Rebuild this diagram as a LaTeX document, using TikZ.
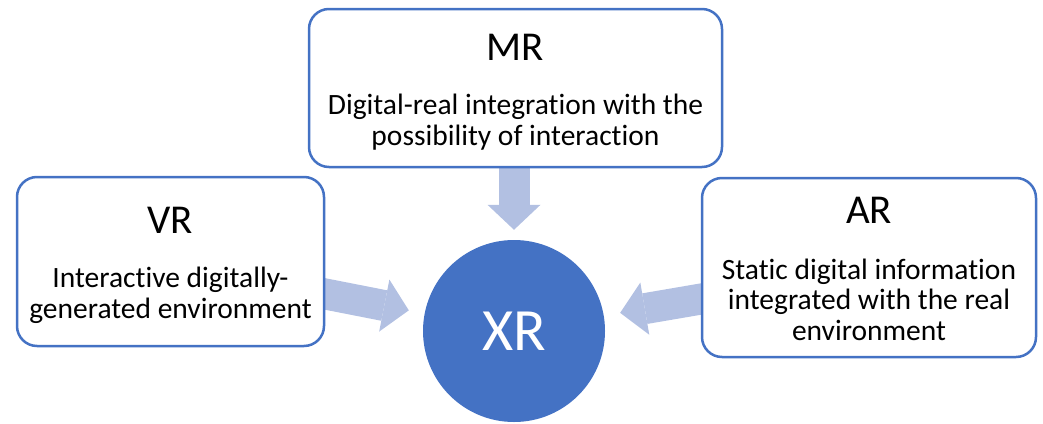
\documentclass[tikz,border=0pt]{standalone}
\usepackage{fontspec}
\setmainfont{Carlito}[Ligatures=NoCommon]
\usetikzlibrary{arrows.meta,backgrounds}
\definecolor{accent}{HTML}{4472C4}
\definecolor{flow}{RGB}{178,192,226}
\tikzset{
  box/.style={draw=accent, line width=2.5pt, rounded corners=20pt, fill=white, inner sep=0pt},
  title/.style={anchor=base, font=\fontsize{41pt}{49pt}\selectfont},
  body/.style={anchor=base, align=center, font=\fontsize{29.5pt}{30.5pt}\selectfont},
  flowarrow/.style={draw=flow, line width=31pt,
    -{Triangle[width=53pt, length=25pt, line width=0pt]}},
}
\begin{document}
\begin{tikzpicture}[x=1pt, y=-1pt]
\useasboundingbox (0,0) rectangle (1043,423);

% central circle
\node[circle, fill=accent, minimum size=182pt, inner sep=0pt,
      text=white, font=\fontsize{60pt}{72pt}\selectfont] (xr) at (514,331) {XR};

% three source boxes
\node[box, minimum width=413pt, minimum height=158pt] (mr) at (515.5,88) {};
\node[box, minimum width=307pt, minimum height=169pt] (vr) at (170.5,261.5) {};
\node[box, minimum width=334pt, minimum height=179pt] (ar) at (869,267.5) {};

% titles sit on their baselines; body nodes on the baseline of their last line
\node[title] (mrt) at (515.5,60) {MR};
\node[body] (mrb) at (515.5,145) {Digital-real integration with the\\possibility of interaction};

\node[title] (vrt) at (170.5,233) {VR};
\node[body] (vrb) at (170.5,318) {Interactive digitally-\\generated environment};

\node[title] (art) at (869,223) {AR};
\node[body] (arb) at (869,340) {Static digital information\\integrated with the real\\environment};

% tails of the arrows, hidden under the boxes
\coordinate (mrtail) at (514,150);
\coordinate (vrtail) at (305,290);
\coordinate (artail) at (721,295.6);

\begin{scope}[on background layer]
  \draw[flowarrow, shorten >=10pt] (mrtail) -- (xr);
  \draw[flowarrow, shorten >=16pt] (vrtail) -- (xr);
  \draw[flowarrow, shorten >=16.5pt] (artail) -- (xr);
\end{scope}
\end{tikzpicture}
\end{document}
